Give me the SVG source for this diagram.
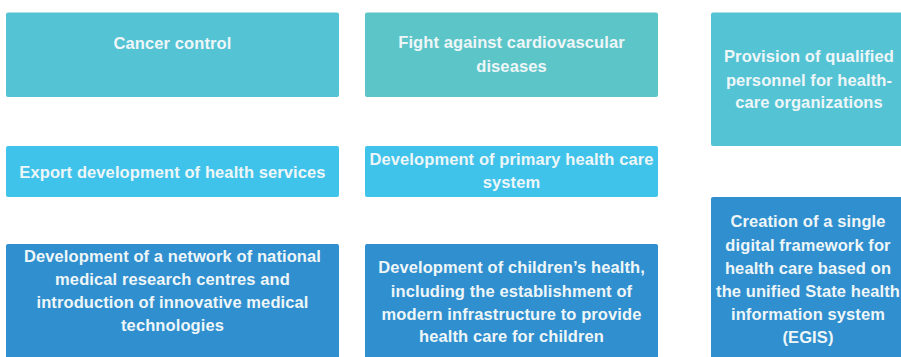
<svg xmlns="http://www.w3.org/2000/svg" width="901" height="357" viewBox="0 0 901 357">
<style>
.t{font-family:"Liberation Sans",Arial,sans-serif;font-weight:bold;font-size:16.5px;fill:#eef6f8;text-anchor:middle;letter-spacing:0.1px}
.c1{fill:#54c3d4}
.c2{fill:#5cc5c8}
.c3{fill:#3fc3ea}
.c4{fill:#2f8fcf}
</style>
<rect width="901" height="357" fill="#ffffff"/>
<g id="n1"><rect class="c1" x="6" y="12.5" width="333" height="84.5" rx="2"/><text class="t" x="172.5" y="49">Cancer control</text></g>
<g id="n2"><rect class="c2" x="365" y="12.5" width="293" height="84.5" rx="2"/><text class="t" x="511.5" y="48">Fight against cardiovascular</text><text class="t" x="511.5" y="72">diseases</text></g>
<g id="n3"><rect class="c1" x="711" y="12.5" width="200" height="133.5" rx="2"/><text class="t" x="809" y="62">Provision of qualified</text><text class="t" x="809" y="85.5">personnel for health-</text><text class="t" x="809" y="108">care organizations</text></g>
<g id="n4"><rect class="c3" x="6" y="146" width="333" height="51" rx="2"/><text class="t" x="172.5" y="178">Export development of health services</text></g>
<g id="n5"><rect class="c3" x="365" y="146" width="293" height="51" rx="2"/><text class="t" x="511.5" y="165">Development of primary health care</text><text class="t" x="511.5" y="188">system</text></g>
<g id="n6"><rect class="c4" x="6" y="244" width="333" height="120" rx="2"/><text class="t" x="172.5" y="262">Development of a network of national</text><text class="t" x="172.5" y="285">medical research centres and</text><text class="t" x="172.5" y="308">introduction of innovative medical</text><text class="t" x="172.5" y="331">technologies</text></g>
<g id="n7"><rect class="c4" x="365" y="244" width="293" height="120" rx="2"/><text class="t" x="511.5" y="273">Development of children’s health,</text><text class="t" x="511.5" y="297">including the establishment of</text><text class="t" x="511.5" y="320">modern infrastructure to provide</text><text class="t" x="511.5" y="342">health care for children</text></g>
<g id="n8"><rect class="c4" x="711" y="197" width="200" height="170" rx="2"/><text class="t" x="808" y="227">Creation of a single</text><text class="t" x="808" y="251">digital framework for</text><text class="t" x="808" y="274">health care based on</text><text class="t" x="808" y="297">the unified State health</text><text class="t" x="808" y="320">information system</text><text class="t" x="808" y="343">(EGIS)</text></g>
<g id="connectors"></g>
</svg>
